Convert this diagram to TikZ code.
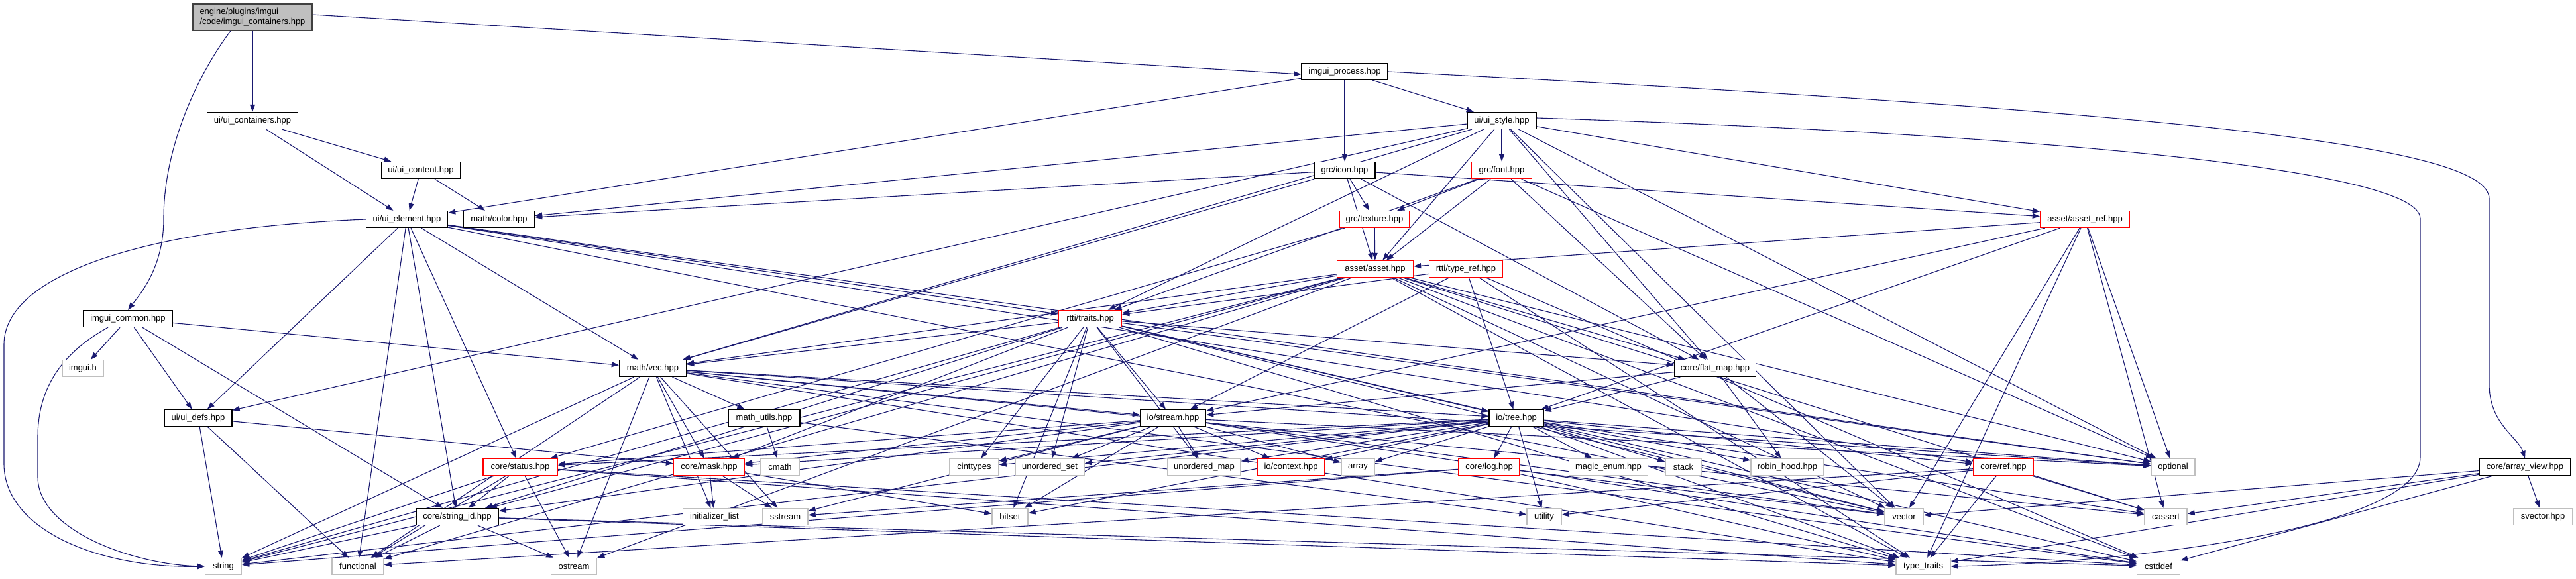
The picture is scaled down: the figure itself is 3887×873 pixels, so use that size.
\documentclass[tikz,border=0pt]{standalone}
\usepackage{fontspec}
\setmainfont{Liberation Sans}
\usetikzlibrary{arrows.meta,backgrounds}
\definecolor{edgeblue}{HTML}{191970}
\definecolor{sysgray}{HTML}{BFBFBF}
\tikzset{
  box/.style={draw=black, line width=1.4pt, fill=white, minimum height=25pt, inner xsep=2pt, inner ysep=0pt,
              font=\fontsize{13pt}{15pt}\selectfont},
  redbox/.style={box, draw=red},
  sysbox/.style={box, draw=sysgray},
  mainbox/.style={box, fill=sysgray, draw=black!75, minimum height=40pt, align=left},
  e/.style={draw=edgeblue, line width=1.1pt, -{Triangle[length=11pt,width=8pt]}},
}
\begin{document}
\begin{tikzpicture}[x=1pt,y=-1pt]
\useasboundingbox (0,0) rectangle (3887,873);
% nodes
\node[mainbox, minimum width=180pt] (main) at (381,26) {engine/plugins/imgui\\/code/imgui\_containers.hpp};
\node[box, minimum width=137pt] (uicont) at (381,182) {ui/ui\_containers.hpp};
\node[box, minimum width=119pt] (uicontent) at (635,257) {ui/ui\_content.hpp};
\node[box, minimum width=123pt] (uielem) at (614,331) {ui/ui\_element.hpp};
\node[box, minimum width=107pt] (color) at (753,331) {math/color.hpp};
\node[box, minimum width=130pt] (proc) at (2029,108) {imgui\_process.hpp};
\node[box, minimum width=104pt] (uistyle) at (2266,182) {ui/ui\_style.hpp};
\node[box, minimum width=92pt] (icon) at (2029,257) {grc/icon.hpp};
\node[redbox, minimum width=91pt] (font) at (2266,257) {grc/font.hpp};
\node[redbox, minimum width=106pt] (texture) at (2074,331) {grc/texture.hpp};
\node[redbox, minimum width=115pt] (asset) at (2075,406) {asset/asset.hpp};
\node[redbox, minimum width=111pt] (typeref) at (2212,406) {rtti/type\_ref.hpp};
\node[redbox, minimum width=135pt] (assetref) at (3146,331) {asset/asset\_ref.hpp};
\node[box, minimum width=135pt] (common) at (193,481) {imgui\_common.hpp};
\node[sysbox, minimum width=62pt] (imguih) at (125,556) {imgui.h};
\node[box, minimum width=102pt] (uidefs) at (299,631) {ui/ui\_defs.hpp};
\node[redbox, minimum width=112pt] (status) at (785,705) {core/status.hpp};
\node[box, minimum width=124pt] (strid) at (690,780) {core/string\_id.hpp};
\node[sysbox, minimum width=55pt] (string) at (337,855) {string};
\node[sysbox, minimum width=78pt] (functional) at (540,855) {functional};
\node[sysbox, minimum width=69pt] (ostream) at (866,855) {ostream};
\node[box, minimum width=101pt] (vec) at (985,556) {math/vec.hpp};
\node[redbox, minimum width=95pt] (traits) at (1645,481) {rtti/traits.hpp};
\node[box, minimum width=108pt] (mutils) at (1153,631) {math\_utils.hpp};
\node[box, minimum width=99pt] (stream) at (1770,631) {io/stream.hpp};
\node[redbox, minimum width=107pt] (mask) at (1070,705) {core/mask.hpp};
\node[sysbox, minimum width=59pt] (cmath) at (1177,705) {cmath};
\node[sysbox, minimum width=74pt] (cinttypes) at (1470,705) {cinttypes};
\node[sysbox, minimum width=104pt] (uset) at (1584,705) {unordered\_set};
\node[sysbox, minimum width=110pt] (umap) at (1817,705) {unordered\_map};
\node[redbox, minimum width=102pt] (context) at (1948,705) {io/context.hpp};
\node[sysbox, minimum width=95pt] (initl) at (1078,780) {initializer\_list};
\node[sysbox, minimum width=68pt] (sstream) at (1185,780) {sstream};
\node[sysbox, minimum width=54pt] (bitset) at (1524,780) {bitset};
\node[box, minimum width=123pt] (flatmap) at (2588,556) {core/flat\_map.hpp};
\node[box, minimum width=82pt] (tree) at (2288,631) {io/tree.hpp};
\node[sysbox, minimum width=50pt] (array) at (2049,705) {array};
\node[redbox, minimum width=92pt] (log) at (2247,705) {core/log.hpp};
\node[sysbox, minimum width=119pt] (magic) at (2427,705) {magic\_enum.hpp};
\node[sysbox, minimum width=54pt] (stack) at (2540,705) {stack};
\node[sysbox, minimum width=110pt] (robin) at (2697,705) {robin\_hood.hpp};
\node[sysbox, minimum width=52pt] (utility) at (2330,780) {utility};
\node[sysbox, minimum width=58pt] (vector) at (2873,780) {vector};
\node[sysbox, minimum width=82pt] (ttraits) at (2902,855) {type\_traits};
\node[redbox, minimum width=91pt] (ref) at (3023,705) {core/ref.hpp};
\node[sysbox, minimum width=66pt] (optional) at (3279,705) {optional};
\node[sysbox, minimum width=64pt] (cassert) at (3268,780) {cassert};
\node[sysbox, minimum width=65pt] (cstddef) at (3257,855) {cstddef};
\node[box, minimum width=137pt] (aview) at (3810,705) {core/array\_view.hpp};
\node[sysbox, minimum width=89pt] (svector) at (3837,780) {svector.hpp};
% edges
\begin{scope}[on background layer]
\draw[e] ([yshift=4pt]main.east) -- ([yshift=-4pt]proc.west);
\draw[e] (main) -- (uicont);
\draw[e] ([xshift=-33pt]main.south) .. controls (300,110) and (247,220) .. (247,330) .. controls (247,400) and (215,440) .. (common.north);
\foreach \t in {uicontent,uielem} \draw[e] (uicont) -- (\t);
\foreach \t in {uielem,color} \draw[e] (uicontent) -- (\t);
\foreach \t in {uielem,uistyle,icon} \draw[e] (proc) -- (\t);
\draw[e] (proc.east) .. controls (3300,170) and (3756,220) .. (3756,300) -- (3756,580) .. controls (3756,640) and (3800,660) .. (aview.north);
\foreach \t in {imguih,uidefs,strid,vec} \draw[e] (common) -- (\t);
\draw[e] ([xshift=-30pt]common.south) .. controls (80,540) and (57,600) .. (57,660) -- (57,720) .. controls (57,800) and (200,852) .. (string.west);
\foreach \t in {uidefs,color,vec,font,asset,traits,flatmap,assetref,optional,vector} \draw[e] (uistyle) -- (\t);
\draw[e] ([yshift=4pt]uistyle.east) .. controls (3000,200) and (3652,250) .. (3652,330) -- (3652,690) .. controls (3652,800) and (3200,850) .. (ttraits.east);
\foreach \t in {color,texture,asset,vec,assetref,flatmap} \draw[e] (icon) -- (\t);
\foreach \t in {texture,asset,flatmap,optional,traits} \draw[e] (font) -- (\t);
\foreach \t in {asset,status} \draw[e] (texture) -- (\t);
\foreach \t in {traits,vec,string,strid,optional,flatmap,vector,cassert,cstddef,ttraits,ostream,functional} \draw[e] (asset) -- (\t);
\foreach \t in {traits,stream,tree,ttraits,cstddef} \draw[e] (typeref) -- (\t);
\foreach \t in {asset,tree,stream,optional,cassert,ttraits,vector} \draw[e] (assetref) -- (\t);
\foreach \t in {uidefs,functional,strid,status,traits,vec,ref,optional,vector} \draw[e] (uielem) -- (\t);
\draw[e] (uielem.west) .. controls (200,345) and (6,420) .. (6,520) -- (6,700) .. controls (6,800) and (150,858) .. (string.west);
\foreach \t in {string,functional,mask} \draw[e] (uidefs) -- (\t);
\foreach \t in {mutils,initl,sstream,ostream,mask,functional,string,stream,tree,optional,cassert,cstddef,ttraits} \draw[e] (vec) -- (\t);
\foreach \t in {cmath,utility} \draw[e] (mutils) -- (\t);
\foreach \t in {vec,stream,tree,flatmap,cinttypes,uset,umap,bitset,mask,string,strid,vector,optional,ttraits,cstddef} \draw[e] (traits) -- (\t);
\foreach \t in {status,mask,strid,cinttypes,uset,umap,context,array,bitset,sstream,vector,optional,cstddef} \draw[e] (stream) -- (\t);
\foreach \t in {tree,stream,robin,vector} \draw[e] (flatmap) -- (\t);
\foreach \t in {status,mask,cinttypes,uset,umap,context,array,log,magic,stack,robin,utility,vector,optional,cassert,ref,string,ttraits,bitset} \draw[e] (tree) -- (\t);
\foreach \t in {strid,string,functional,ostream,ttraits,cstddef} \draw[e] (status) -- (\t);
\foreach \t in {string,functional,ostream,ttraits,cstddef} \draw[e] (strid) -- (\t);
\foreach \t in {initl,sstream,bitset} \draw[e] (mask) -- (\t);
\foreach \t in {vector,sstream,ttraits,string} \draw[e] (log) -- (\t);
\foreach \t in {ttraits,cassert,utility,functional} \draw[e] (ref) -- (\t);
\foreach \t in {vector,cassert,svector,cstddef,ttraits} \draw[e] (aview) -- (\t);
\end{scope}
\end{tikzpicture}
\end{document}
